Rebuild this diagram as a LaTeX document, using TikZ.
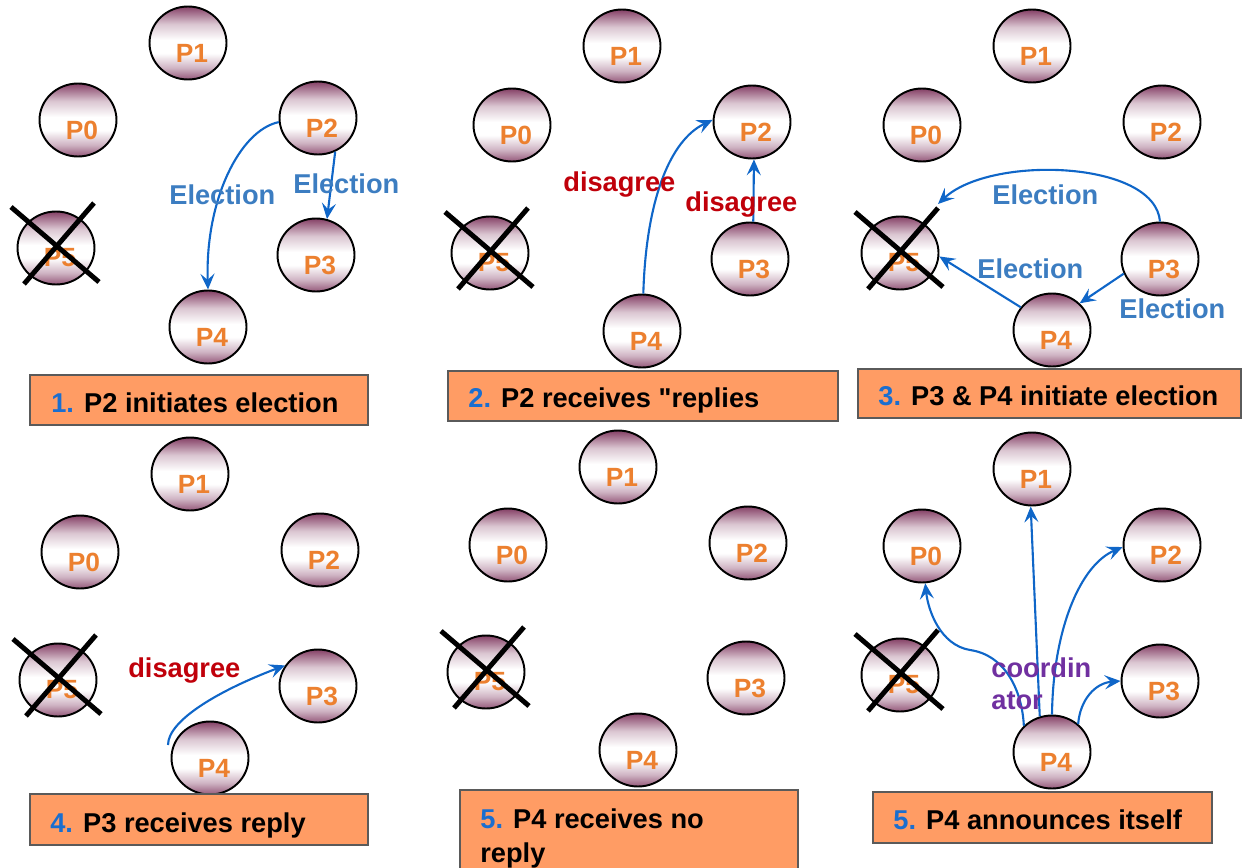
\documentclass[tikz,border=0pt]{standalone}
\usepackage{fontspec}
\setmainfont{Liberation Sans}
\newfontfamily\plainsans{Liberation Sans}
\usetikzlibrary{shapes.geometric,arrows.meta,calc}

\definecolor{ballTop}{HTML}{854066}
\definecolor{ballBot}{HTML}{95587A}
\definecolor{procText}{HTML}{EC802F}
\definecolor{electBlue}{HTML}{3C7DC1}
\definecolor{msgBlue}{HTML}{0F66C8}
\definecolor{replyRed}{HTML}{C0000A}
\definecolor{coordPurple}{HTML}{7030A0}
\definecolor{capFill}{HTML}{FF9C64}
\definecolor{capEdge}{HTML}{5A5A5A}
\definecolor{numBlue}{HTML}{1A6ECF}

% glossy ball: dark rim at top and bottom, white band just below the middle
\pgfdeclareverticalshading{procshade}{100bp}{%
  color(0bp)=(ballBot); color(25bp)=(ballBot);
  color(33bp)=(ballBot!45!white); color(43bp)=(white);
  color(52bp)=(white); color(63bp)=(ballTop!30!white);
  color(75bp)=(ballTop); color(100bp)=(ballTop)}

% one process: name, position, label
\newcommand\proc[3]{\node[procball, label={[pname]center:#3}] (#1) at (#2) {};}
% crossed-out (crashed) process
\newcommand\killproc[1]{%
  \draw[xline] ($(#1)+(-45,-41)$) -- ($(#1)+(43,34)$);
  \draw[xline] ($(#1)+(38,-45)$) -- ($(#1)+(-32,36)$);}

\begin{document}
\begin{tikzpicture}[x=0.02cm,y=-0.02cm,
  procball/.style={ellipse, draw=black, line width=1.1pt,
    minimum width=1.54cm, minimum height=1.46cm, inner sep=0pt,
    shading=procshade},
  pname/.style={text=procText, font=\bfseries\fontsize{15}{17}\selectfont,
    inner sep=0pt, xshift=0.08cm, yshift=-0.2cm},
  msg/.style={draw=msgBlue, line width=1.2pt,
    -{Stealth[length=9pt,width=8pt,inset=3.5pt]}},
  xline/.style={draw=black, line width=2.8pt},
  lbl/.style={font=\bfseries\fontsize{15.5}{18.2}\selectfont, inner sep=0pt, anchor=base west},
  elect/.style={lbl, text=electBlue},
  reply/.style={lbl, text=replyRed},
  capbox/.style={fill=capFill, draw=capEdge, line width=0.8pt},
  captext/.style={font=\bfseries\fontsize{15.5}{19.3}\selectfont, inner sep=0pt, anchor=base west}
]
\useasboundingbox (0,0) rectangle (1243,868);

% ---------- 1. P2 initiates election ----------
\proc{a0}{78,120}{P0}
\proc{a1}{188,43}{P1}
\proc{a2}{318,118}{P2}
\proc{a3}{316,255}{P3}
\proc{a4}{208,327}{P4}
\proc{a5}{56,248}{P5}
\killproc{a5}
\draw[msg] (a2.186) .. controls (240,130) and (205,200) .. (a4.north);
\draw[msg] (a2.-63) -- (a3.73);
\node[elect] (la1) at (169,205) {Election};
\node[elect] (la2) at (293,194) {Election};
\draw[capbox] (30,375) rectangle (368,425);
\node[captext] (ca) at (51,412) {\textcolor{numBlue}{1.} P2 initiates election};

% ---------- 2. P2 receives replies ----------
\proc{b0}{512,125}{P0}
\proc{b1}{622,46}{P1}
\proc{b2}{752,122}{P2}
\proc{b3}{750,259}{P3}
\proc{b4}{642,331}{P4}
\proc{b5}{490,253}{P5}
\killproc{b5}
\draw[msg] (b4.88) .. controls (646,200) and (670,140) .. (b2.177);
\draw[msg] (b3.85) -- (b2.-87);
\node[reply] (lb1) at (563,192) {disagree};
\node[reply] (lb2) at (685,212) {disagree};
\draw[capbox] (448,371) rectangle (838,421);
\node[captext] (cb) at (468,407) {\textcolor{numBlue}{2.} P2 receives {\plainsans"}replies};

% ---------- 3. P3 & P4 initiate election ----------
\proc{c0}{922,125}{P0}
\proc{c1}{1032,46}{P1}
\proc{c2}{1162,122}{P2}
\proc{c3}{1160,259}{P3}
\proc{c4}{1052,330}{P4}
\proc{c5}{900,253}{P5}
\killproc{c5}
\coordinate (c5tip) at (938,204);
\draw[msg] (c3.north) .. controls (1155,160) and (990,155) .. (c5tip);
\draw[msg] (c4.144) -- (c5.-5);
\draw[msg] (c3.202) -- (c4.44);
\node[elect] (lc1) at (992,205) {Election};
\node[elect] (lc2) at (977,278) {Election};
\node[elect] (lc3) at (1119,318) {Election};
\draw[capbox] (858,369) rectangle (1241,418);
\node[captext] (cc) at (878,405) {\textcolor{numBlue}{3.} P3 \& P4 initiate election};

% ---------- 4. P3 receives reply ----------
\proc{d0}{80,552}{P0}
\proc{d1}{190,474}{P1}
\proc{d2}{320,550}{P2}
\proc{d3}{318,686}{P3}
\proc{d4}{210,758}{P4}
\proc{d5}{58,680}{P5}
\killproc{d5}
\coordinate (d4out) at (168,745);
\draw[msg] (d4out) .. controls (168,720) and (220,690) .. (d3.148);
\node[reply] (ld1) at (128,677) {disagree};
\draw[capbox] (30,794) rectangle (368,845);
\node[captext] (cd) at (50,832) {\textcolor{numBlue}{4.} P3 receives reply};

% ---------- 5. P4 receives no reply ----------
\proc{e0}{508,545}{P0}
\proc{e1}{618,467}{P1}
\proc{e2}{748,543}{P2}
\proc{e3}{746,678}{P3}
\proc{e4}{638,750}{P4}
\proc{e5}{486,672}{P5}
\killproc{e5}
\draw[capbox] (460,790) rectangle (798,880);
\node[captext, anchor=north west, align=left] (ce) at (480,808)
  {\textcolor{numBlue}{5.} P4 receives no\\reply};

% ---------- 5. P4 announces itself ----------
\proc{f0}{922,546}{P0}
\proc{f1}{1032,469}{P1}
\proc{f2}{1162,545}{P2}
\proc{f3}{1160,681}{P3}
\proc{f4}{1052,752}{P4}
\proc{f5}{900,675}{P5}
\killproc{f5}
\draw[msg] (f4.137) .. controls (1022,690) and (1005,655) .. (970,650)
                    .. controls (940,645) and (928,610) .. (f0.-85);
\draw[msg] (f4.109) -- (f1.-92);
\draw[msg] (f4.90) .. controls (1053,630) and (1080,565) .. (f2.183);
\draw[msg] (f4.47) .. controls (1080,700) and (1095,683) .. (f3.180);
\node[lbl, text=coordPurple, anchor=north west, align=left] (lf1) at (991,657) {coordin\\ator};
\draw[capbox] (873,792) rectangle (1212,843);
\node[captext] (cf) at (893,829) {\textcolor{numBlue}{5.} P4 announces itself};
\end{tikzpicture}
\end{document}
